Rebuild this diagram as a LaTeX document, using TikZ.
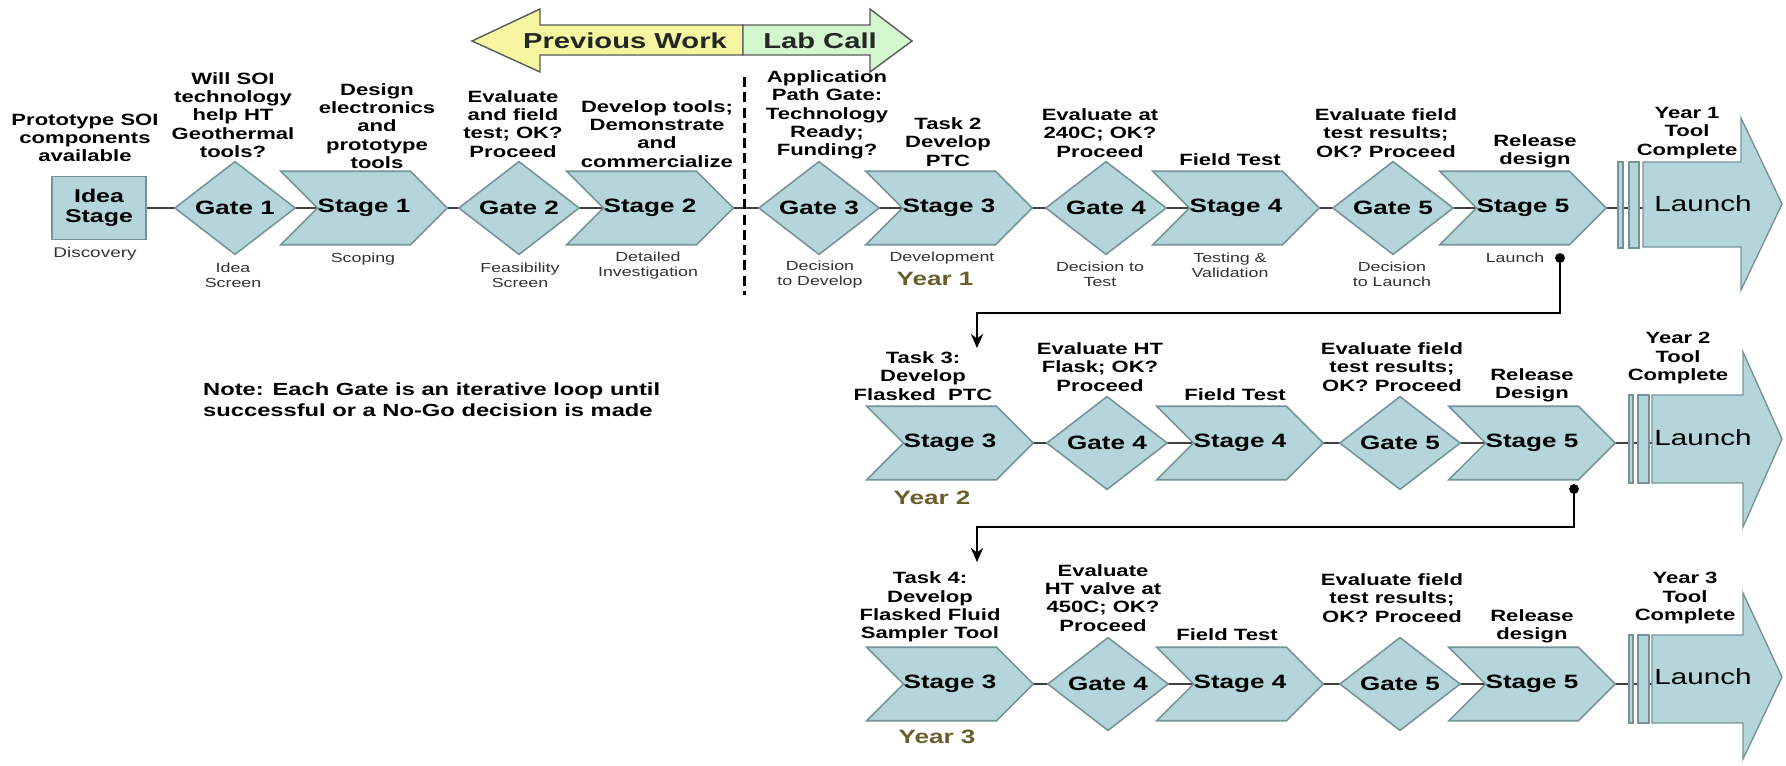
\documentclass[tikz,border=0pt]{standalone}
\usepackage{fontspec}
\setmainfont{Liberation Sans}[FakeStretch=1.35]
\usetikzlibrary{shapes.geometric,shapes.symbols,backgrounds,arrows.meta}

\definecolor{stagefill}{RGB}{180,214,219}
\definecolor{stageline}{RGB}{118,148,152}
\definecolor{prevfill}{RGB}{246,246,160}
\definecolor{labfill}{RGB}{212,246,206}
\definecolor{yearcol}{RGB}{105,95,45}

\tikzset{
  gate/.style={diamond, draw=stageline, fill=stagefill, line width=0.9pt,
    minimum width=2.42cm, minimum height=1.8cm, inner sep=0pt,
    font=\fontsize{11}{13}\selectfont\bfseries},
  stagebox/.style={signal, signal to=east, signal from=west, signal pointer angle=90,
    draw=stageline, fill=stagefill, line width=0.9pt,
    minimum width=3.26cm, minimum height=1.47cm, inner sep=0pt,
    font=\fontsize{11}{13}\selectfont\bfseries},
  ask/.style={align=center, font=\fontsize{9.3}{10.4}\selectfont\bfseries},
  phase/.style={align=center, font=\fontsize{7.5}{8.5}\selectfont, text=black!80},
  year/.style={font=\fontsize{11}{13}\selectfont\bfseries, text=yearcol},
  launchtext/.style={font=\fontsize{12.5}{14}\selectfont},
  bar/.style={draw=stageline, fill=stagefill, line width=0.8pt},
  link/.style={draw=black!75, line width=0.6pt},
  loopback/.style={draw=black, line width=1.6pt, -{Stealth[length=8pt,width=7pt]}},
}

\begin{document}
\begin{tikzpicture}[x=0.02cm, y=-0.02cm]
\useasboundingbox (0,0) rectangle (1786,765);

% previous work / lab call arrow
\draw[black!65, fill=prevfill, line width=0.8pt] (743,25) -- (540,25) -- (540,9) -- (472,41) -- (540,72) -- (540,55) -- (743,55) -- cycle;
\draw[black!65, fill=labfill, line width=0.8pt] (743,25) -- (870,25) -- (870,9) -- (912,41) -- (870,72) -- (870,55) -- (743,55) -- cycle;
\node[font=\fontsize{12.3}{15}\selectfont\bfseries, text=black!85] (prev) at (625,41) {Previous Work};
\node[font=\fontsize{12.3}{15}\selectfont\bfseries, text=black!85] (lab) at (820,41) {Lab Call};
\draw[line width=1.7pt, dash pattern=on 5.7pt off 3pt] (744,77) -- (744,295);

% row 1
\node[draw=stageline, fill=stagefill, line width=0.9pt, minimum width=1.88cm, minimum height=1.26cm,
  align=center, font=\fontsize{10.5}{11.4}\selectfont\bfseries] (idea) at (99,208) {Idea\\Stage};
\node[gate] (ga1) at (235,208) {Gate 1};
\node[stagebox] (st1) at (364,208) {Stage 1};
\node[gate] (ga2) at (519,208) {Gate 2};
\node[stagebox] (st2) at (650,208) {Stage 2};
\node[gate] (ga3) at (819,208) {Gate 3};
\node[stagebox] (st3) at (949,208) {Stage 3};
\node[gate] (ga4) at (1106,208) {Gate 4};
\node[stagebox] (st4) at (1236,208) {Stage 4};
\node[gate] (ga5) at (1393,208) {Gate 5};
\node[stagebox] (st5) at (1523,208) {Stage 5};

\draw[bar] (1618,162) rectangle (1623,248);
\draw[bar] (1629,162) rectangle (1639,248);
\draw[bar] (1643,162) -- (1741,162) -- (1741,118) -- (1782,204) -- (1741,290) -- (1741,247) -- (1643,247) -- cycle;
\node[launchtext] (done1) at (1703,204) {Launch};

\node[ask] (proto) at (85,138) {Prototype SOI\\components\\available};
\node[ask] (askg1) at (233,115) {Will SOI\\technology\\help HT\\Geothermal\\tools?};
\node[ask] (asks1) at (377,126) {Design\\electronics\\and\\prototype\\tools};
\node[ask] (askg2) at (513,124) {Evaluate\\and field\\test; OK?\\Proceed};
\node[ask] (asks2) at (657,134) {Develop tools;\\Demonstrate\\and\\commercialize};
\node[ask] (askg3) at (827,115) {Application\\Path Gate:\\Technology\\Ready;\\Funding?};
\node[ask] (asks3) at (948,142) {Task 2\\Develop\\PTC};
\node[ask] (askg4) at (1100,133) {Evaluate at\\240C; OK?\\Proceed};
\node[ask] (asks4) at (1230,160) {Field Test};
\node[ask] (askg5) at (1386,133) {Evaluate field\\test results;\\OK? Proceed};
\node[ask] (asks5) at (1535,151) {Release\\design};
\node[ask] (tool1) at (1687,133) {Year 1\\Tool\\Complete};

\node[phase, font=\fontsize{8}{9}\selectfont] (ph0) at (95,254) {Discovery};
\node[phase] (ph1) at (233,275) {Idea\\Screen};
\node[phase] (ph2) at (363,259) {Scoping};
\node[phase] (ph3) at (520,275) {Feasibility\\Screen};
\node[phase] (ph4) at (648,266) {Detailed\\Investigation};
\node[phase] (ph5) at (820,275) {Decision\\to Develop};
\node[phase] (ph6) at (942,258) {Development};
\node[year] (yr1) at (935,279) {Year 1};
\node[phase] (ph7) at (1100,274) {Decision to\\Test};
\node[phase] (ph8) at (1230,265) {Testing \&\\Validation};
\node[phase] (ph9) at (1392,274) {Decision\\to Launch};
\node[phase] (ph10) at (1515,258) {Launch};

\node[anchor=west, align=left, font=\fontsize{10}{12}\selectfont\bfseries] (note) at (197,400)
  {Note: Each Gate is an iterative loop until\\successful or a No-Go decision is made};

% row 2
\node[stagebox] (bst3) at (950,443) {Stage 3};
\node[gate] (bga4) at (1107,443) {Gate 4};
\node[stagebox] (bst4) at (1240,443) {Stage 4};
\node[gate] (bga5) at (1400,443) {Gate 5};
\node[stagebox] (bst5) at (1532,443) {Stage 5};

\draw[bar] (1629,395) rectangle (1633,483);
\draw[bar] (1638,395) rectangle (1649,483);
\draw[bar] (1652,395) -- (1743,395) -- (1743,352) -- (1782,439) -- (1743,527) -- (1743,483) -- (1652,483) -- cycle;
\node[launchtext] (done2) at (1703,438) {Launch};

\node[ask] (basks3) at (923,376) {Task 3:\\Develop\\Flasked~~PTC};
\node[ask] (baskg4) at (1100,367) {Evaluate HT\\Flask; OK?\\Proceed};
\node[ask] (basks4) at (1235,395) {Field Test};
\node[ask] (baskg5) at (1392,367) {Evaluate field\\test results;\\OK? Proceed};
\node[ask] (basks5) at (1532,385) {Release\\Design};
\node[ask] (tool2) at (1678,358) {Year 2\\Tool\\Complete};
\node[year] (yr2) at (932,498) {Year 2};

% row 3
\node[stagebox] (cst3) at (950,684) {Stage 3};
\node[gate] (cga4) at (1108,684) {Gate 4};
\node[stagebox] (cst4) at (1240,684) {Stage 4};
\node[gate] (cga5) at (1400,684) {Gate 5};
\node[stagebox] (cst5) at (1532,684) {Stage 5};

\draw[bar] (1629,635) rectangle (1633,723);
\draw[bar] (1638,635) rectangle (1649,723);
\draw[bar] (1652,635) -- (1743,635) -- (1743,593) -- (1782,677) -- (1743,759) -- (1743,723) -- (1652,723) -- cycle;
\node[launchtext] (done3) at (1703,677) {Launch};

\node[ask] (casks3) at (930,607) {Task 4:\\Develop\\Flasked Fluid\\Sampler Tool};
\node[ask] (caskg4) at (1103,598) {Evaluate\\HT valve at\\450C; OK?\\Proceed};
\node[ask] (casks4) at (1227,635) {Field Test};
\node[ask] (caskg5) at (1392,598) {Evaluate field\\test results;\\OK? Proceed};
\node[ask] (casks5) at (1532,626) {Release\\design};
\node[ask] (tool3) at (1685,598) {Year 3\\Tool\\Complete};
\node[year] (yr3) at (937,737) {Year 3};

% connectors behind the shapes
\begin{scope}[on background layer]
\draw[link] (idea.center) -- (ga1.center) -- (st1.center) -- (ga2.center) -- (st2.center) -- (ga3.center)
  -- (st3.center) -- (ga4.center) -- (st4.center) -- (ga5.center) -- (st5.center) -- (st5.center -| done1.center);
\draw[link] (bst3.center) -- (bga4.center) -- (bst4.center) -- (bga5.center) -- (bst5.center) -- (bst5.center -| done2.center);
\draw[link] (cst3.center) -- (cga4.center) -- (cst4.center) -- (cga5.center) -- (cst5.center) -- (cst5.center -| done3.center);
\end{scope}

% loops down to the next year
\coordinate (dot1) at (1560,258);
\coordinate (arr2) at (977,348);
\coordinate (dot2) at (1574,489);
\coordinate (arr3) at (977,562);
\fill (dot1) circle[radius=2.8pt];
\fill (dot2) circle[radius=2.8pt];
\draw[loopback] (dot1) -- ++(0,55) -| (arr2);
\draw[loopback] (dot2) -- ++(0,38) -| (arr3);

\end{tikzpicture}
\end{document}
